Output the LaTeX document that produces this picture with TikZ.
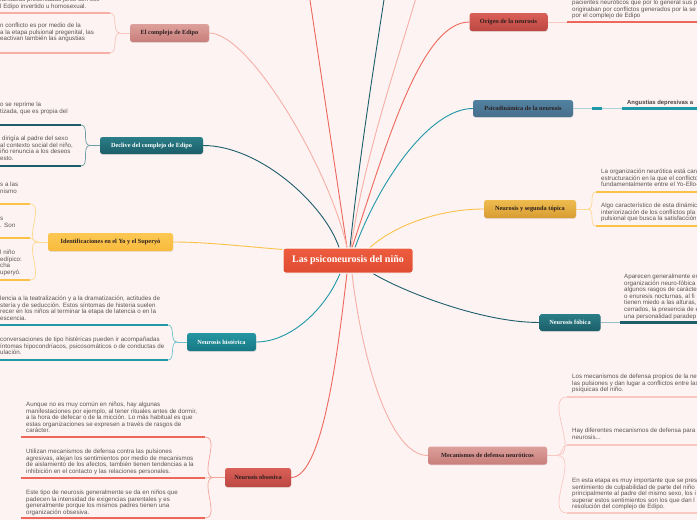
\documentclass[tikz,border=0pt]{standalone}
\usepackage{fontspec}
\setmainfont{Liberation Serif}
\setsansfont{Liberation Sans}
\usetikzlibrary{shadows}
\definecolor{bgc}{HTML}{FDF3F2}
\definecolor{txtgray}{HTML}{5A5555}
\definecolor{darktxt}{HTML}{2B1F1F}
\definecolor{cPink}{HTML}{F6AFA7}
\definecolor{cDteal}{HTML}{1D5E6B}
\definecolor{cYel}{HTML}{FBC24A}
\definecolor{cTeal}{HTML}{2198A8}
\definecolor{cRed}{HTML}{EE675B}
\definecolor{bPink}{HTML}{F8C4BD}
\definecolor{bDteal}{HTML}{6C9CA4}
\definecolor{bYel}{HTML}{FDD990}
\definecolor{bTeal}{HTML}{6CC3CE}
\definecolor{bRed}{HTML}{F5A49C}
\definecolor{lTeal}{HTML}{A9D3D9}
\definecolor{lDteal}{HTML}{9CBFC4}
\definecolor{lPink}{HTML}{F9C8C1}
\definecolor{pinkTop}{HTML}{DDA09C}
\definecolor{pinkBot}{HTML}{C87E7A}
\definecolor{redTop}{HTML}{D96058}
\definecolor{redBot}{HTML}{BC4842}
\definecolor{dtTop}{HTML}{2B7E88}
\definecolor{dtBot}{HTML}{1B5E68}
\definecolor{teTop}{HTML}{2596A3}
\definecolor{teBot}{HTML}{167884}
\definecolor{stTop}{HTML}{5381A0}
\definecolor{stBot}{HTML}{466F8C}
\definecolor{yeTop}{HTML}{FCC852}
\definecolor{yeBot}{HTML}{F8BA3E}
\definecolor{goTop}{HTML}{EFBC4E}
\definecolor{goBot}{HTML}{D79C33}
\definecolor{rootTop}{HTML}{EE5C3E}
\definecolor{rootBot}{HTML}{DF4C32}
\pgfdeclarelayer{back}
\pgfsetlayers{back,main}
\newcommand{\lns}[1]{\begin{tabular}[t]{@{}l@{}}#1\end{tabular}}
\tikzset{
  conn/.style={line width=0.9pt},
  bracel/.style={line width=0.7pt},
  uline/.style={line width=2.3pt},
  bnode/.style={rounded corners=2.5pt, inner sep=0pt, text=darktxt,
    font=\rmfamily\bfseries\fontsize{6.3}{7.5}\selectfont,
    drop shadow={opacity=0.18, shadow xshift=0.4pt, shadow yshift=-0.9pt}},
  ctxt/.style={inner sep=0pt, anchor=base west, text=txtgray,
    font=\sffamily\fontsize{6.2}{6.6}\selectfont},
  pinkfill/.style={top color=pinkTop, bottom color=pinkBot},
  redfill/.style={top color=redTop, bottom color=redBot},
  dtealfill/.style={top color=dtTop, bottom color=dtBot, text=white},
  tealfill/.style={top color=teTop, bottom color=teBot, text=white},
  steelfill/.style={top color=stTop, bottom color=stBot},
  yelfill/.style={top color=yeTop, bottom color=yeBot},
  goldfill/.style={top color=goTop, bottom color=goBot},
}
\begin{document}
\begin{tikzpicture}[x=1pt,y=-1pt]
\useasboundingbox (0,0) rectangle (697,520);
\clip (0,0) rectangle (697,520);

% ---------- nodes ----------
\node[bnode, top color=rootTop, bottom color=rootBot, draw=white, line width=1pt,
  minimum width=130pt, minimum height=25pt, text=white,
  font=\rmfamily\bfseries\fontsize{10}{11}\selectfont] (root) at (348,260.5) {Las psiconeurosis del niño};

\node[bnode, pinkfill, minimum width=79pt, minimum height=18pt] (edipo) at (169.5,33) {El complejo de Edipo};
\node[bnode, dtealfill, minimum width=103pt, minimum height=17pt] (declive) at (151.5,145.5) {Declive del complejo de Edipo};
\node[bnode, yelfill, minimum width=125pt, minimum height=18pt] (ident) at (110.5,242) {Identificaciones en el Yo y el Superyó};
\node[bnode, tealfill, minimum width=69pt, minimum height=18pt] (hist) at (221.5,342) {Neurosis histérica};
\node[bnode, redfill, minimum width=66pt, minimum height=19pt] (obs) at (258,477.5) {Neurosis obsesiva};
\node[bnode, redfill, minimum width=78pt, minimum height=18pt] (origen) at (508.5,22) {Origen de la neurosis};
\node[bnode, steelfill, minimum width=100pt, minimum height=17pt] (psico) at (523,108.5) {Psicodinámica de la neurosis};
\node[bnode, goldfill, minimum width=92pt, minimum height=18pt] (seg) at (530,209) {Neurosis y segunda tópica};
\node[bnode, dtealfill, minimum width=61pt, minimum height=17pt] (fob) at (570,322.5) {Neurosis fóbica};
\node[bnode, pinkfill, minimum width=119pt, minimum height=18pt] (mec) at (487.5,455.5) {Mecanismos de defensa neuróticos};

% ---------- child texts ----------
\node[ctxt] (e1t) at (0,1.6) {\lns{fantasías presentadas junto con ese\\l Edipo invertido u homosexual.}};
\node[ctxt] (e2t) at (0,27.5) {\lns{n conflicto es por medio de la\\a la etapa pulsional pregenital, las\\eactivan también las angustias}};

\node[ctxt] (d1t) at (0,106.5) {\lns{o se reprime la\\tizada, que es propia del}};
\node[ctxt] (d2t) at (0,140.5) {\lns{\hspace{2pt}dirigía al padre del sexo\\al contexto social del niño,\\iño renuncia a los deseos\\esto.}};

\node[ctxt] (i1t) at (0,186.5) {\lns{s a las\\nismo}};
\node[ctxt] (i2t) at (0,220.5) {\lns{s\\. Son}};
\node[ctxt] (i3t) at (0,254.5) {\lns{l niño\\edípico:\\cha\\uperyó.}};

\node[ctxt] (h1t) at (0,300.5) {\lns{lencia a la teatralización y a la dramatización, actitudes de\\stería y de seducción. Estos síntomas de histeria suelen\\recer en los niños al terminar la etapa de latencia o en la\\escencia.}};
\node[ctxt] (h2t) at (0,341.5) {\lns{conversaciones de tipo histéricas pueden ir acompañadas\\íntomas hipocondríacos, psicosomáticos o de conductas de\\ulación.}};

\node[ctxt] (o1t) at (26,406.5) {\lns{Aunque no es muy común en niños, hay algunas\\manifestaciones por ejemplo, al tener rituales antes de dormir,\\a la hora de defecar o de la micción. Lo más habitual es que\\estas organizaciones se expresen a través de rasgos de\\carácter.}};
\node[ctxt] (o2t) at (26,453.5) {\lns{Utilizan mecanismos de defensa contra las pulsiones\\agresivas, alejan los sentimientos por medio de mecanismos\\de aislamiento de los afectos, también tienen tendencias a la\\inhibición en el contacto y las relaciones personales.}};
\node[ctxt] (o3t) at (26,494.5) {\lns{Este tipo de neurosis generalmente se da en niños que\\padecen la intensidad de exigencias parentales y es\\generalmente porque los mismos padres tienen una\\organización obsesiva.}};

\node[ctxt] (r1t) at (572,4.5) {\lns{pacientes neuróticos que por lo general sus p\\originaban por conflictos generados por la se\\por el complejo de Edipo}};
\node[ctxt, font=\sffamily\bfseries\fontsize{5.9}{7}\selectfont, text=darktxt!85] (p1t) at (627,104) {Angustias depresivas a};
\node[ctxt] (s1t) at (601,173.5) {\lns{La organización neurótica está cara\\estructuración en la que el conflicto\\fundamentalmente entre el Yo-Ello-}};
\node[ctxt] (s2t) at (601,207.5) {\lns{Algo característico de esta dinámic\\interiorización de los conflictos pla\\pulsional que busca la satisfacción}};
\node[ctxt] (f1t) at (624,278.5) {\lns{Aparecen generalmente en\\organización neuro-fóbica\\algunos rasgos de carácte\\o enuresis nocturnas, al fi\\tienen miedo a las alturas,\\cerrados, la presencia de e\\una personalidad paradep}};
\node[ctxt] (m1t) at (572,378.5) {\lns{Los mecanismos de defensa propios de la neu\\las pulsiones y dan lugar a conflictos entre las\\psíquicas del niño.}};
\node[ctxt] (m2t) at (572,432.5) {\lns{Hay diferentes mecanismos de defensa para\\neurosis...}};
\node[ctxt] (m3t) at (572,482.5) {\lns{En esta etapa es muy importante que se pres\\sentimiento de culpabilidad de parte del niño\\principalmente al padre del mismo sexo, los i\\superar estos sentimientos son los que dan l\\resolución del complejo de Edipo.}};

% ---------- coordinates ----------
\coordinate (offR) at (307,-20);
\coordinate (offT) at (387,-20);
\coordinate (offP) at (421,-20);
\coordinate (ej) at (120,33);   \coordinate (e1) at (110,13);  \coordinate (e2) at (110,53);
\coordinate (dj) at (90,145.5); \coordinate (d1) at (81,125);  \coordinate (d2) at (81,166);
\coordinate (ij) at (38,242);   \coordinate (i1) at (30,204);  \coordinate (i2) at (30,238); \coordinate (i3) at (30,280);
\coordinate (hj) at (177,342);  \coordinate (h1) at (168,325); \coordinate (h2) at (168,360);
\coordinate (oj) at (214,477.5);\coordinate (o1) at (205,437); \coordinate (o2) at (205,478); \coordinate (o3) at (205,518);
\coordinate (r1) at (567,22);
\coordinate (pa) at (592,108.5); \coordinate (pb) at (602,108.5); \coordinate (p1) at (622,108.5);
\coordinate (sj) at (588,209);  \coordinate (s1) at (596,192); \coordinate (s2) at (596,226);
\coordinate (f1) at (620,322.5);
\coordinate (mj) at (557,455.5);\coordinate (m1) at (567,397); \coordinate (m2) at (567,445); \coordinate (m3) at (567,513);

% ---------- connectors (behind nodes) ----------
\begin{pgfonlayer}{back}
\clip (0,0) rectangle (697,520);
\fill[bgc] (-10,-10) rectangle (710,530);
\draw[conn, cRed] ([xshift=-1pt]root.north) -- (offR);
\draw[conn, cDteal] ([xshift=2pt]root.north) .. controls (360,150) and (378,40) .. (offT);
\draw[conn, cPink] ([xshift=3pt]root.north) .. controls (365,150) and (405,40) .. (offP);
\draw[conn, cPink] ([xshift=-1pt]root.north) .. controls (330,170) and (250,33) .. (edipo.east);
\draw[conn, cDteal] ([xshift=-9pt]root.north) .. controls (325,205) and (260,145.5) .. (declive.east);
\draw[conn, cYel] ([yshift=-2pt]root.north west) .. controls (240,246) and (205,242) .. (ident.east);
\draw[conn, cTeal] ([xshift=-8pt]root.south) .. controls (325,310) and (290,342) .. (hist.east);
\draw[conn, cRed] ([xshift=-1pt]root.south) .. controls (340,330) and (325,477.5) .. (obs.east);
\draw[conn, cPink] ([xshift=4pt]root.south) .. controls (362,360) and (390,455.5) .. (mec.west);
\draw[conn, cDteal] ([xshift=25pt]root.south) .. controls (400,290) and (480,322.5) .. (fob.west);
\draw[conn, cYel] ([xshift=22pt]root.north) .. controls (395,225) and (440,209) .. (seg.west);
\draw[conn, cTeal] ([xshift=7pt]root.north) .. controls (380,180) and (430,108.5) .. (psico.west);
\draw[conn, cRed] ([xshift=4pt]root.north) .. controls (385,150) and (420,22) .. (origen.west);

% Edipo
\draw[bracel, bPink] (edipo.west) -- (ej);
\draw[bracel, bPink] (ej) to[out=180,in=0] (e1);
\draw[bracel, bPink] (ej) to[out=180,in=0] (e2);
\draw[uline, cPink] (e1) -- (-5,13);
\draw[uline, cPink] (e2) -- (-5,53);
% Declive
\draw[bracel, bDteal] (declive.west) -- (dj);
\draw[bracel, bDteal] (dj) to[out=180,in=0] (d1);
\draw[bracel, bDteal] (dj) to[out=180,in=0] (d2);
\draw[uline, cDteal] (d1) -- (-5,125);
\draw[uline, cDteal] (d2) -- (-5,166);
% Identificaciones
\draw[bracel, bYel] (ident.west) -- (ij);
\draw[bracel, bYel] (ij) to[out=180,in=0] (i1);
\draw[bracel, bYel] (ij) to[out=180,in=0] (i2);
\draw[bracel, bYel] (ij) to[out=180,in=0] (i3);
\draw[uline, cYel] (i1) -- (-5,204);
\draw[uline, cYel] (i2) -- (-5,238);
\draw[uline, cYel] (i3) -- (-5,280);
% Histerica
\draw[bracel, bTeal] (hist.west) -- (hj);
\draw[bracel, bTeal] (hj) to[out=180,in=0] (h1);
\draw[bracel, bTeal] (hj) to[out=180,in=0] (h2);
\draw[uline, cTeal] (h1) -- (-5,325);
\draw[uline, cTeal] (h2) -- (-5,360);
% Obsesiva
\draw[bracel, bRed] (obs.west) -- (oj);
\draw[bracel, bRed] (oj) to[out=180,in=0] (o1);
\draw[bracel, bRed] (oj) to[out=180,in=0] (o2);
\draw[bracel, bRed] (oj) to[out=180,in=0] (o3);
\draw[uline, cRed] (o1) -- (21,437);
\draw[uline, cRed] (o2) -- (21,478);
\draw[uline, cRed] (o3) -- (21,518);
% Origen
\draw[bracel, lPink] (origen.east) -- (r1);
\draw[uline, cRed] (r1) -- (705,22);
% Psicodinamica
\draw[bracel, lTeal] (psico.east) -- (p1);
\draw[uline, cTeal] (pa) -- (pb);
\draw[uline, cTeal] (p1) -- (705,108.5);
% Segunda topica
\draw[bracel, bYel] (seg.east) -- (sj);
\draw[bracel, bYel] (sj) to[out=0,in=180] (s1);
\draw[bracel, bYel] (sj) to[out=0,in=180] (s2);
\draw[uline, cYel] (s1) -- (705,192);
\draw[uline, cYel] (s2) -- (705,226);
% Fobica
\draw[bracel, lDteal] (fob.east) -- (f1);
\draw[uline, cDteal] (f1) -- (705,322.5);
% Mecanismos
\draw[bracel, lPink] (mec.east) -- (mj);
\draw[bracel, lPink] (mj) to[out=0,in=180] (m1);
\draw[bracel, lPink] (mj) to[out=0,in=180] (m2);
\draw[bracel, lPink] (mj) to[out=0,in=180] (m3);
\draw[uline, lPink] (m1) -- (705,397);
\draw[uline, lPink] (m2) -- (705,445);
\draw[uline, lPink] (m3) -- (705,513);
\end{pgfonlayer}
\end{tikzpicture}
\end{document}
